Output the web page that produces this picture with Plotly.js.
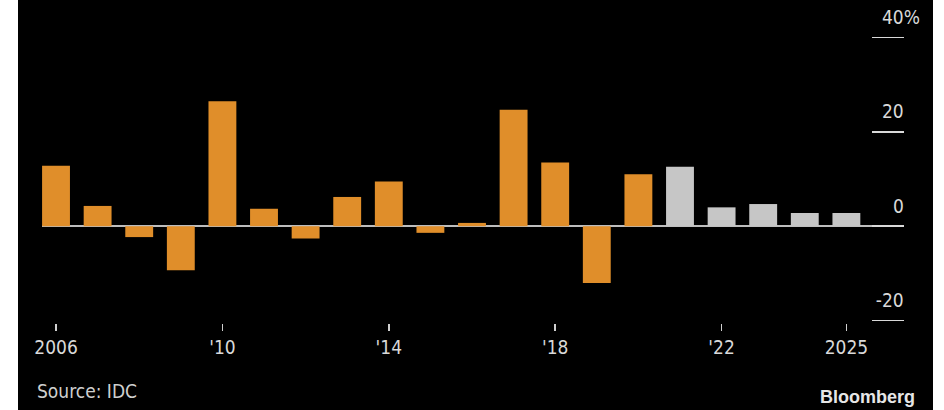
<!DOCTYPE html>
<html>
<head>
<meta charset="utf-8">
<script src="https://cdn.plot.ly/plotly-3.0.1.min.js"></script>
<style>
  html, body { margin: 0; padding: 0; background: #ffffff; width: 944px; height: 410px; overflow: hidden; }
  #chart { position: absolute; left: 18px; top: 0; width: 915px; height: 410px; }
</style>
</head>
<body>
<div id="chart"></div>
<script>
// Data
const years = [2006, 2007, 2008, 2009, 2010, 2011, 2012, 2013, 2014, 2015,
               2016, 2017, 2018, 2019, 2020, 2021, 2022, 2023, 2024, 2025];
const growth = [12.8, 4.3, -2.3, -9.3, 26.5, 3.7, -2.6, 6.2, 9.5, -1.4,
                0.7, 24.7, 13.5, -12.0, 11.0, 12.6, 4.0, 4.7, 2.8, 2.8];
const forecastStart = 2021;
const xTickVals = [2006, 2010, 2014, 2018, 2022, 2025];
const xTickText = ["2006", "'10", "'14", "'18", "'22", "2025"];
const yTickVals = [-20, 0, 20, 40];
const yTickText = ["-20", "0", "20", "40%"];

const actualColor = '#E08E2A';
const forecastColor = '#C6C6C6';
const barColors = years.map(y => y >= forecastStart ? forecastColor : actualColor);

// pad labels without % with an invisible % so numbers right-align like the original
const yTickLabels = yTickText.map(t => t.indexOf('%') >= 0 ? t : t + '<span style="color:#000000">%</span>');

const font = "'DejaVu Sans Condensed', 'DejaVu Sans', sans-serif";

const trace = {
  type: 'bar',
  x: years,
  y: growth,
  marker: { color: barColors, line: { width: 0 } },
  hoverinfo: 'x+y'
};

const layout = {
  width: 915,
  height: 410,
  paper_bgcolor: '#000000',
  plot_bgcolor: '#000000',
  margin: { l: 24, r: 29, t: 2, b: 87, pad: 0 },
  bargap: 0.33,
  showlegend: false,
  font: { family: font, color: '#d9d9d9', size: 19 },
  xaxis: {
    range: [2005.663, 2026.385],
    tickmode: 'array',
    tickvals: xTickVals,
    ticktext: xTickText,
    ticks: 'outside',
    ticklen: 7,
    tickwidth: 1.5,
    tickcolor: '#cfcfcf',
    showgrid: false,
    zeroline: false,
    showline: false,
    tickfont: { family: font, size: 19, color: '#d9d9d9' },
    fixedrange: true
  },
  yaxis: {
    range: [-20.5, 47.5],
    side: 'right',
    tickmode: 'array',
    tickvals: yTickVals,
    ticktext: yTickLabels,
    ticks: 'inside',
    ticklen: 32,
    tickwidth: 1.5,
    tickcolor: '#d9d9d9',
    ticklabelposition: 'inside top',
    ticklabelstandoff: -19,
    ticklabelshift: -6,
    showgrid: false,
    showline: false,
    zeroline: true,
    zerolinecolor: '#bdbdbd',
    zerolinewidth: 2,
    tickfont: { family: font, size: 19, color: '#d9d9d9' },
    fixedrange: true
  },
  annotations: [
    {
      xref: 'paper', yref: 'paper', x: -0.008, y: -0.212,
      xanchor: 'left', yanchor: 'middle', showarrow: false,
      text: 'Source: IDC',
      font: { family: font, size: 19, color: '#cfcfcf' }
    },
    {
      xref: 'paper', yref: 'paper', x: 1.015, y: -0.232,
      xanchor: 'right', yanchor: 'middle', showarrow: false,
      text: '<b>Bloomberg</b>',
      font: { family: "'Liberation Sans', Arial, sans-serif", size: 18, color: '#e6e6e6' }
    }
  ]
};

Plotly.newPlot('chart', [trace], layout, { displayModeBar: false, staticPlot: true });
</script>
</body>
</html>
